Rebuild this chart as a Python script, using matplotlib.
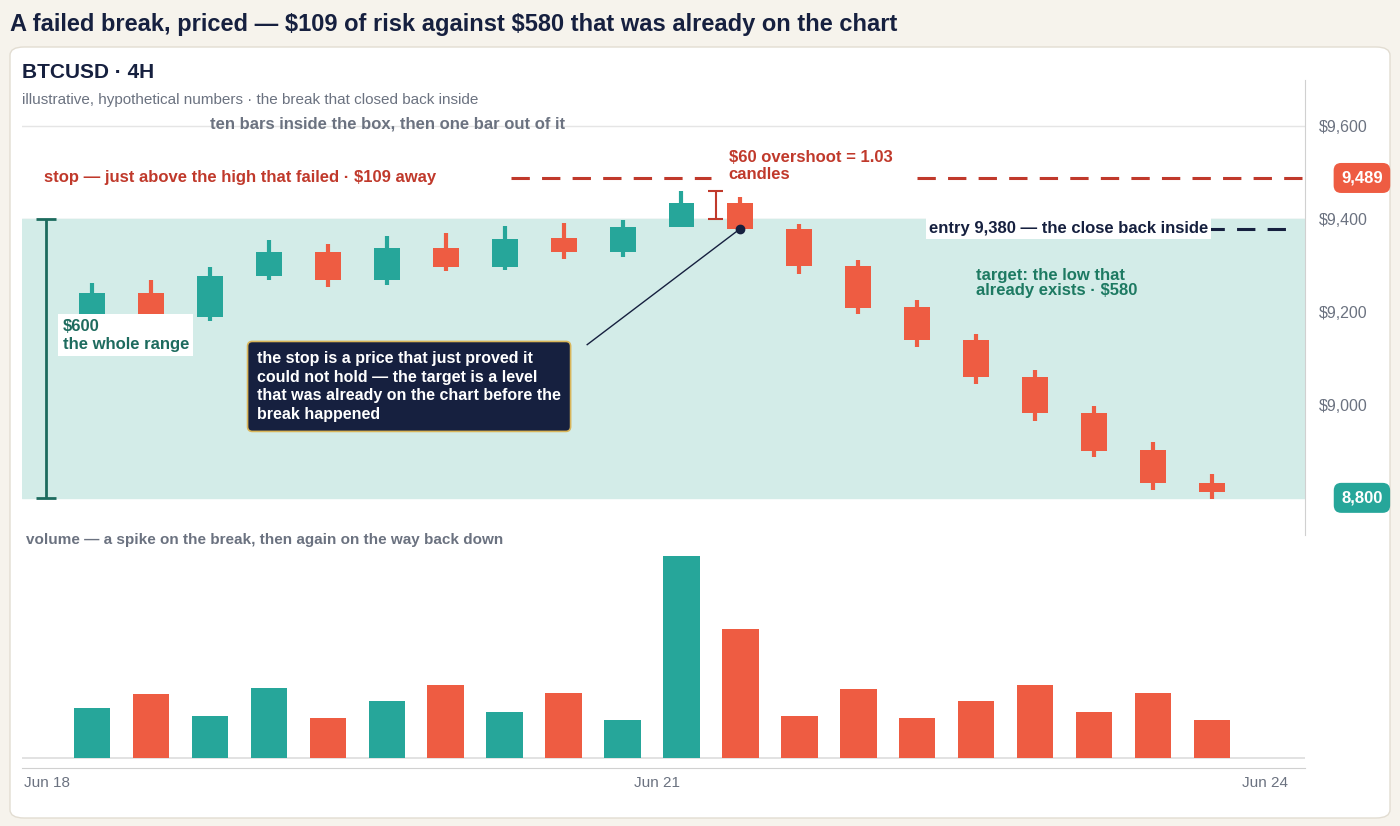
import matplotlib
matplotlib.use("Agg")
import matplotlib.pyplot as plt
from matplotlib.patches import FancyBboxPatch, Rectangle
import numpy as np

plt.rcParams['font.family'] = ['Liberation Sans', 'DejaVu Sans']
plt.rcParams['text.parse_math'] = False

opens  = [9182, 9242, 9190, 9278, 9330, 9270, 9338, 9297, 9359, 9329, 9383, 9436, 9379, 9299, 9210, 9139, 9060, 8983, 8902, 8833]
closes = [9242, 9190, 9278, 9330, 9270, 9338, 9297, 9357, 9329, 9383, 9436, 9380, 9299, 9210, 9139, 9060, 8983, 8902, 8833, 8812]
highs  = [9263, 9270, 9297, 9355, 9347, 9364, 9370, 9385, 9391, 9398, 9460, 9447, 9390, 9312, 9227, 9154, 9075, 8998, 8921, 8852]
lows   = [9165, 9175, 9182, 9270, 9255, 9259, 9289, 9291, 9314, 9319, 9383, 9376, 9282, 9197, 9124, 9045, 8966, 8887, 8816, 8797]
volume = [50, 64, 42, 70, 40, 57, 73, 46, 65, 38, 202, 129, 42, 69, 40, 57, 73, 46, 65, 38]
date_labels = ["Jun 18", "Jun 21", "Jun 24"]
date_pos = [-0.76, 9.58, 19.9]
price_ticks = [9000, 9200, 9400, 9600]
box_low, box_high = 8800, 9400
stop, entry = 9489, 9380

GREEN = "#26a69a"; RED = "#ee5c42"; NAVY = "#16203f"; DTEAL = "#1d6b5e"; STOPC = "#c0392b"; GRAY = "#6b7280"

W, H = 1400, 826
fig = plt.figure(figsize=(14, 8.26), dpi=100, facecolor="#f6f3ec")
def fx(x): return x / W
def fy(y): return 1 - y / H

card = FancyBboxPatch((fx(10), fy(818)), fx(1380), (818 - 47) / H, boxstyle="round,pad=0,rounding_size=0.01",
                      transform=fig.transFigure, facecolor="white", edgecolor="#e2ddd2", lw=1, zorder=-10)
fig.patches.append(card)
fig.text(fx(10), fy(24), "A failed break, priced — $109 of risk against $580 that was already on the chart",
         fontsize=17, fontweight="bold", color=NAVY, va="center")
fig.text(fx(22), fy(72), "BTCUSD · 4H", fontsize=15, fontweight="bold", color=NAVY, va="center")
fig.text(fx(22), fy(100), "illustrative, hypothetical numbers · the break that closed back inside", fontsize=11, color=GRAY, va="center")

ax = fig.add_axes([fx(22), fy(535), (1305 - 22) / W, (535 - 80) / H])
ax.patch.set_alpha(0)
n = len(opens)
x = np.arange(n)
ax.set_xlim(-1.19, 20.58)
ax.set_ylim(8720, 9700)
for s in ["top", "left", "bottom"]:
    ax.spines[s].set_visible(False)
ax.spines["right"].set_color("#d0d0d0")
ax.yaxis.tick_right()
ax.set_yticks(price_ticks)
ax.set_yticklabels([f"${t:,}" for t in price_ticks], fontsize=11.5, color=GRAY)
ax.tick_params(axis="y", length=0, pad=10)
ax.set_xticks([])
ax.grid(axis="y", color="#e5e5e5", lw=1)
ax.set_axisbelow(True)
ax.axhspan(box_low, box_high, color="#d3ece8", zorder=1)

for i in range(n):
    c = GREEN if closes[i] >= opens[i] else RED
    ax.vlines(x[i], lows[i], highs[i], color=c, lw=3, zorder=3)
    b0, b1 = sorted([opens[i], closes[i]])
    ax.add_patch(Rectangle((x[i] - 0.22, b0), 0.44, max(b1 - b0, 2), facecolor=c, edgecolor="none", zorder=4))

# range bracket
ax.vlines(-0.78, box_low, box_high, color=DTEAL, lw=2, zorder=5)
ax.hlines([box_low, box_high], -0.95, -0.61, color=DTEAL, lw=2, zorder=5)
ax.text(-0.5, 9150, "$600\nthe whole range", fontsize=12, fontweight="bold", color=DTEAL, va="center", ha="left",
        bbox=dict(facecolor="white", edgecolor="none", pad=3), zorder=6, linespacing=1.3)

# stop line
ax.hlines(stop, 7.1, 10.5, color=STOPC, lw=2.2, ls=(0, (6, 4)), zorder=5)
ax.hlines(stop, 14.0, 20.58, color=STOPC, lw=2.2, ls=(0, (6, 4)), zorder=5)
ax.text(-0.82, stop, "stop — just above the high that failed · $109 away", fontsize=12, fontweight="bold", color=STOPC, va="center")
ax.text(10.8, 9515, "$60 overshoot = 1.03\ncandles", fontsize=12, fontweight="bold", color=STOPC, va="center", linespacing=1.2)
ax.vlines(10.58, box_high, highs[10], color=STOPC, lw=1.5, zorder=5)
ax.hlines([box_high, highs[10]], 10.45, 10.71, color=STOPC, lw=1.5, zorder=5)

# entry
ax.hlines(entry, 18.9, 20.45, color=NAVY, lw=2.2, ls=(0, (6, 4)), zorder=5)
ax.text(14.2, entry, "entry 9,380 — the close back inside", fontsize=12, fontweight="bold", color=NAVY, va="center",
        bbox=dict(facecolor="white", edgecolor="none", pad=2), zorder=6)
ax.text(15.0, 9263, "target: the low that\nalready exists · $580", fontsize=12, fontweight="bold", color="#1d7a62",
        va="center", linespacing=1.0)
ax.text(2.0, 9605, "ten bars inside the box, then one bar out of it", fontsize=12, fontweight="bold", color=GRAY, va="center")

# annotation
ax.plot([x[11]], [closes[11]], "o", color=NAVY, ms=6, zorder=7)
ax.plot([8.4, x[11]], [9130, closes[11]], color=NAVY, lw=1, zorder=6)
ax.text(2.8, 9040, "the stop is a price that just proved it\ncould not hold — the target is a level\nthat was already on the chart before the\nbreak happened",
        fontsize=11.5, fontweight="bold", color="white", va="center", ha="left", linespacing=1.3, zorder=8,
        bbox=dict(boxstyle="round,pad=0.6,rounding_size=0.3", facecolor=NAVY, edgecolor="#d9b65a", lw=1.2))

# right tags
for val, col in [(stop, RED), (box_low, GREEN)]:
    ax.annotate(f"{val:,}", xy=(1.0, val), xycoords=("axes fraction", "data"), xytext=(41, 0), textcoords="offset points",
                ha="center", va="center", fontsize=12, fontweight="bold", color="white", annotation_clip=False,
                bbox=dict(boxstyle="round,pad=0.45", facecolor=col, edgecolor="none"))

# volume
vx = fig.add_axes([fx(22), fy(768), (1305 - 22) / W, (768 - 548) / H])
vx.patch.set_alpha(0)
vx.set_xlim(-1.19, 20.58)
vx.set_ylim(-10, 210)
vcol = [GREEN if closes[i] >= opens[i] else RED for i in range(n)]
vx.bar(x, volume, width=0.62, color=vcol, zorder=3)
vx.axhline(0, color="#dddddd", lw=1.2)
for s in ["top", "left", "right"]:
    vx.spines[s].set_visible(False)
vx.spines["bottom"].set_color("#d0d0d0")
vx.set_yticks([])
vx.set_xticks(date_pos)
vx.set_xticklabels(date_labels, fontsize=11, color=GRAY)
vx.tick_params(axis="x", length=0, pad=6)
fig.text(fx(26), fy(540), "volume — a spike on the break, then again on the way back down", fontsize=11, fontweight="bold", color=GRAY, va="center")

fig.savefig("out.png", dpi=100, facecolor=fig.get_facecolor())
